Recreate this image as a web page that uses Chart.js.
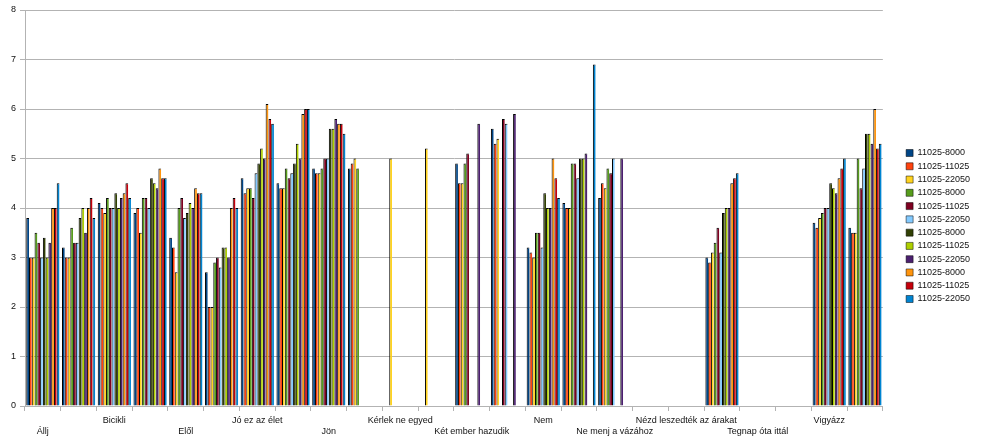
<!DOCTYPE html>
<html>
<head>
<meta charset="utf-8">
<script src="https://cdn.jsdelivr.net/npm/chart.js@4.4.1/dist/chart.umd.min.js"></script>
<style>
  html, body { margin: 0; padding: 0; background: #fff; }
</style>
</head>
<body>
<canvas id="chart" width="981" height="440"></canvas>
<script>
// kategóriák (a rejtett, páratlan feliratok üresek)
const categories = ['Állj', '', 'Bicikli', '', 'Elől', '', 'Jó ez az élet', '', 'Jön', '', 'Kérlek ne egyed', '',
  'Két ember hazudik', '', 'Nem', '', 'Ne menj a vázához', '', 'Nézd leszedték az árakat', '', 'Tegnap óta ittál', '', 'Vigyázz', ''];

const seriesNames = ['11025-8000', '11025-11025', '11025-22050', '11025-8000', '11025-11025', '11025-22050',
  '11025-8000', '11025-11025', '11025-22050', '11025-8000', '11025-11025', '11025-22050'];

const s1 = [3.8, 3.2, 4.1, 3.9, 3.4, 2.7, 4.6, 4.5, 4.8, 4.8, null, null, 4.9, 5.6, 3.2, 4.1, 4.2, null, null, 3.0, null, null, 3.7, 3.6];
const s2 = [3.0, 3.0, 4.0, 4.0, 3.2, 2.0, 4.3, 4.4, 4.7, 4.9, null, null, 4.5, 5.3, 3.1, 4.0, 4.5, null, null, 2.9, null, null, 3.6, 3.5];
const s3 = [3.0, 3.0, 3.9, 3.5, 2.7, 2.0, 4.4, 4.4, 4.7, 5.0, 5.0, 5.2, 4.5, 5.4, 3.0, 4.0, 4.4, null, null, 3.1, null, null, 3.8, 3.5];
const s4 = [3.5, 3.6, 4.2, 4.2, 4.0, 2.9, 4.4, 4.8, 4.8, 4.8, null, null, 4.9, null, 3.5, 4.9, 4.8, null, null, 3.3, null, null, 3.9, 5.0];
const s5 = [3.3, 3.3, 4.0, 4.2, 4.2, 3.0, 4.2, 4.6, 5.0, null, null, null, 5.1, 5.8, 3.5, 4.9, 4.7, null, null, 3.6, null, null, 4.0, 4.4];
const s6 = [3.0, 3.3, 4.0, 4.0, 3.8, 2.8, 4.7, 4.7, 5.0, null, null, null, null, 5.7, 3.2, 4.6, 5.0, null, null, 3.1, null, null, 4.0, 4.8];
const s7 = [3.4, 3.8, 4.3, 4.6, 3.9, 3.2, 4.9, 4.9, 5.6, null, null, null, null, null, 4.3, 5.0, null, null, null, 3.9, null, null, 4.5, 5.5];
const s8 = [3.0, 4.0, 4.0, 4.5, 4.1, 3.2, 5.2, 5.3, 5.6, null, null, null, null, null, 4.0, 5.0, null, null, null, 4.0, null, null, 4.4, 5.5];
const s9 = [3.3, 3.5, 4.2, 4.4, 4.0, 3.0, 5.0, 5.0, 5.8, null, null, null, 5.7, 5.9, 4.0, 5.1, 5.0, null, null, 4.0, null, null, 4.3, 5.3];
const s10 = [4.0, 4.0, 4.3, 4.8, 4.4, 4.0, 6.1, 5.9, 5.7, null, null, null, null, null, 5.0, null, null, null, null, 4.5, null, null, 4.6, 6.0];
const s11 = [4.0, 4.2, 4.5, 4.6, 4.3, 4.2, 5.8, 6.0, 5.7, null, null, null, null, null, 4.6, null, null, null, null, 4.6, null, null, 4.8, 5.2];
const s12 = [4.5, 3.8, 4.2, 4.6, 4.3, 4.0, 5.7, 6.0, 5.5, null, null, null, null, null, 4.2, 6.9, null, null, null, 4.7, null, null, 5.0, 5.3];

const yTicks = [0, 1, 2, 3, 4, 5, 6, 7, 8];

const colors = ['#004586', '#ff420e', '#ffd320', '#579d1c', '#7e0021', '#83caff',
  '#314004', '#aecf00', '#4b1f6f', '#ff950e', '#c5000b', '#0084d1'];

const seriesData = [s1, s2, s3, s4, s5, s6, s7, s8, s9, s10, s11, s12];

const font = { family: '"Liberation Sans", Arial, sans-serif', size: 9 };

// a jelmagyarázatot kicsit jobbra toljuk, mint az eredetin
const legendShift = {
  id: 'legendShift',
  beforeDraw(chart) {
    const lg = chart.legend;
    if (!lg || lg._shifted) return;
    lg.left += 19; lg.right += 19;
    lg.top += 1; lg.bottom += 1;
    lg._shifted = true;
  },
  afterLayout(chart) {
    if (chart.legend) chart.legend._shifted = false;
  }
};

new Chart(document.getElementById('chart'), {
  type: 'bar',
  data: {
    labels: categories,
    datasets: seriesData.map((d, i) => ({
      label: seriesNames[i],
      data: d,
      backgroundColor: colors[i],
      borderColor: '#000',
      borderWidth: { top: 1, left: 1, right: 0, bottom: 0 },
      borderSkipped: false,
      categoryPercentage: 0.93,
      barPercentage: 1.0
    }))
  },
  options: {
    responsive: false,
    animation: false,
    layout: { padding: { top: 10, right: 20, left: 0, bottom: 0 } },
    plugins: {
      tooltip: { enabled: false },
      legend: {
        position: 'right',
        labels: {
          boxWidth: 7,
          boxHeight: 7,
          padding: 4.27,
          color: '#111',
          font: font
        }
      }
    },
    scales: {
      x: {
        grid: { display: true, drawOnChartArea: false, drawTicks: true, tickLength: 5, color: '#b3b3b3', offset: true },
        border: { color: '#b3b3b3' },
        ticks: {
          autoSkip: false,
          maxRotation: 0,
          minRotation: 0,
          padding: 4,
          color: '#111',
          font: { ...font, lineHeight: 1.22 },
          callback: function (value, index) {
            const name = categories[index];
            if (!name) return '';
            const k = categories.slice(0, index).filter(c => c).length;
            return k % 2 === 0 ? ['', name] : name;
          }
        },
        afterFit: (axis) => { axis.height = 34; }
      },
      y: {
        min: yTicks[0],
        max: yTicks[yTicks.length - 1],
        grid: { color: '#b3b3b3', tickLength: 5 },
        border: { color: '#b3b3b3' },
        ticks: { stepSize: 1, padding: 4, color: '#111', font: font },
        afterFit: (axis) => { axis.width = 25; }
      }
    }
  },
  plugins: [legendShift]
});
</script>
</body>
</html>
